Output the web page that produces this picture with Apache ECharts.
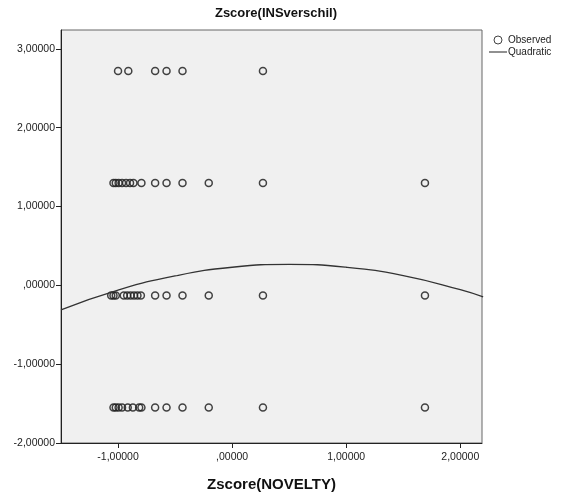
<!DOCTYPE html>
<html>
<head>
<meta charset="utf-8">
<script src="https://cdn.jsdelivr.net/npm/echarts@6/dist/echarts.min.js"></script>
<style>
  html, body { margin: 0; padding: 0; background: #fff; }
  #chart { width: 564px; height: 494px; }
</style>
</head>
<body>
<div id="chart"></div>
<script>
// Zscore(INSverschil) levels, one per row of observations
const insLevels = [2.72, 1.30, -0.13, -1.55]
// Zscore(NOVELTY) values observed at each level
const noveltyRow1 = [-1.00, -0.91, -0.675, -0.575, -0.435, 0.27]
const noveltyRow2 = [-1.04, -1.02, -0.995, -0.965, -0.93, -0.895, -0.865, -0.795, -0.675, -0.575, -0.435, -0.205, 0.27, 1.69]
const noveltyRow3 = [-1.06, -1.04, -1.02, -0.95, -0.92, -0.89, -0.86, -0.83, -0.80, -0.675, -0.575, -0.435, -0.205, 0.27, 1.69]
const noveltyRow4 = [-1.04, -1.02, -0.995, -0.965, -0.915, -0.87, -0.815, -0.795, -0.675, -0.575, -0.435, -0.205, 0.27, 1.69]

// quadratic fit line
const fitX = [-1.5, -1.0, -0.5, 0, 0.5, 1.0, 1.5, 2.0, 2.2]
const fitY = [-0.31, -0.06, 0.12, 0.23, 0.266, 0.23, 0.124, -0.055, -0.147]

// tick labels
const xTicks = [-1, 0, 1, 2]
const yTicks = [-2, -1, 0, 1, 2, 3]

const rows = [noveltyRow1, noveltyRow2, noveltyRow3, noveltyRow4]
const observed = []
rows.forEach((row, i) => {
  row.forEach(x => observed.push([x, insLevels[i]]))
})
const fitted = fitX.map((x, i) => [x, fitY[i]])

// SPSS style: comma decimal, no leading zero for 0
function spssNum(v) {
  let s = v.toFixed(5).replace('.', ',')
  if (s.startsWith('0,')) s = s.slice(1)
  return s
}

// legend icon for the fit line: a thin bar in a 18x8 box
const lineIcon = 'path://M0,0L0.05,0L0.05,0.05Z M0,3.5L18,3.5L18,4.6L0,4.6Z M17.95,8L18,8L18,7.95Z'

const font = '"Liberation Sans", Arial, sans-serif'
const chart = echarts.init(document.getElementById('chart'))
chart.setOption({
  animation: false,
  textStyle: { fontFamily: font },
  title: {
    text: 'Zscore(INSverschil)',
    left: 271,
    textAlign: 'center',
    top: 2,
    textStyle: { fontSize: 13, fontWeight: 'bold', color: '#111', fontFamily: font }
  },
  legend: {
    orient: 'vertical',
    left: 484,
    top: 30,
    itemGap: 2,
    itemWidth: 18,
    itemHeight: 8,
    textStyle: { fontSize: 10, color: '#222', fontFamily: font, padding: [0, 0, 0, -4] },
    data: [
      { name: 'Observed', icon: 'circle', itemStyle: { color: 'transparent', borderColor: '#222', borderWidth: 1 } },
      { name: 'Quadratic', icon: lineIcon, itemStyle: { color: '#222', borderWidth: 0 } }
    ]
  },
  grid: {
    left: 61,
    right: 82,
    top: 30,
    bottom: 51,
    outerBoundsMode: 'none',
    show: true,
    backgroundColor: '#f0f0f0',
    borderColor: '#666',
    borderWidth: 1
  },
  xAxis: {
    type: 'value',
    min: -1.5,
    max: 2.19,
    name: 'Zscore(NOVELTY)',
    nameLocation: 'middle',
    nameGap: 34,
    nameTextStyle: { fontSize: 15, fontWeight: 'bold', color: '#111', fontFamily: font },
    splitLine: { show: false },
    axisLine: { onZero: false, lineStyle: { color: '#222' } },
    axisTick: { show: true, customValues: xTicks, length: 5, lineStyle: { color: '#222' } },
    axisLabel: { customValues: xTicks, formatter: spssNum, fontSize: 10.5, color: '#222', margin: 9 }
  },
  yAxis: {
    type: 'value',
    min: -2,
    max: 3.24,
    splitLine: { show: false },
    axisLine: { show: true, onZero: false, lineStyle: { color: '#222' } },
    axisTick: { show: true, customValues: yTicks, length: 5, lineStyle: { color: '#222' } },
    axisLabel: { customValues: yTicks, formatter: spssNum, fontSize: 10.5, color: '#222', margin: 6 }
  },
  series: [
    {
      name: 'Observed',
      type: 'scatter',
      symbol: 'circle',
      symbolSize: 7,
      itemStyle: { color: 'transparent', borderColor: '#222', borderWidth: 1.5, opacity: 0.85 },
      data: observed
    },
    {
      name: 'Quadratic',
      type: 'line',
      smooth: true,
      symbol: 'none',
      color: '#333',
      lineStyle: { color: '#333', width: 1.3 },
      data: fitted
    }
  ]
})
</script>
</body>
</html>
